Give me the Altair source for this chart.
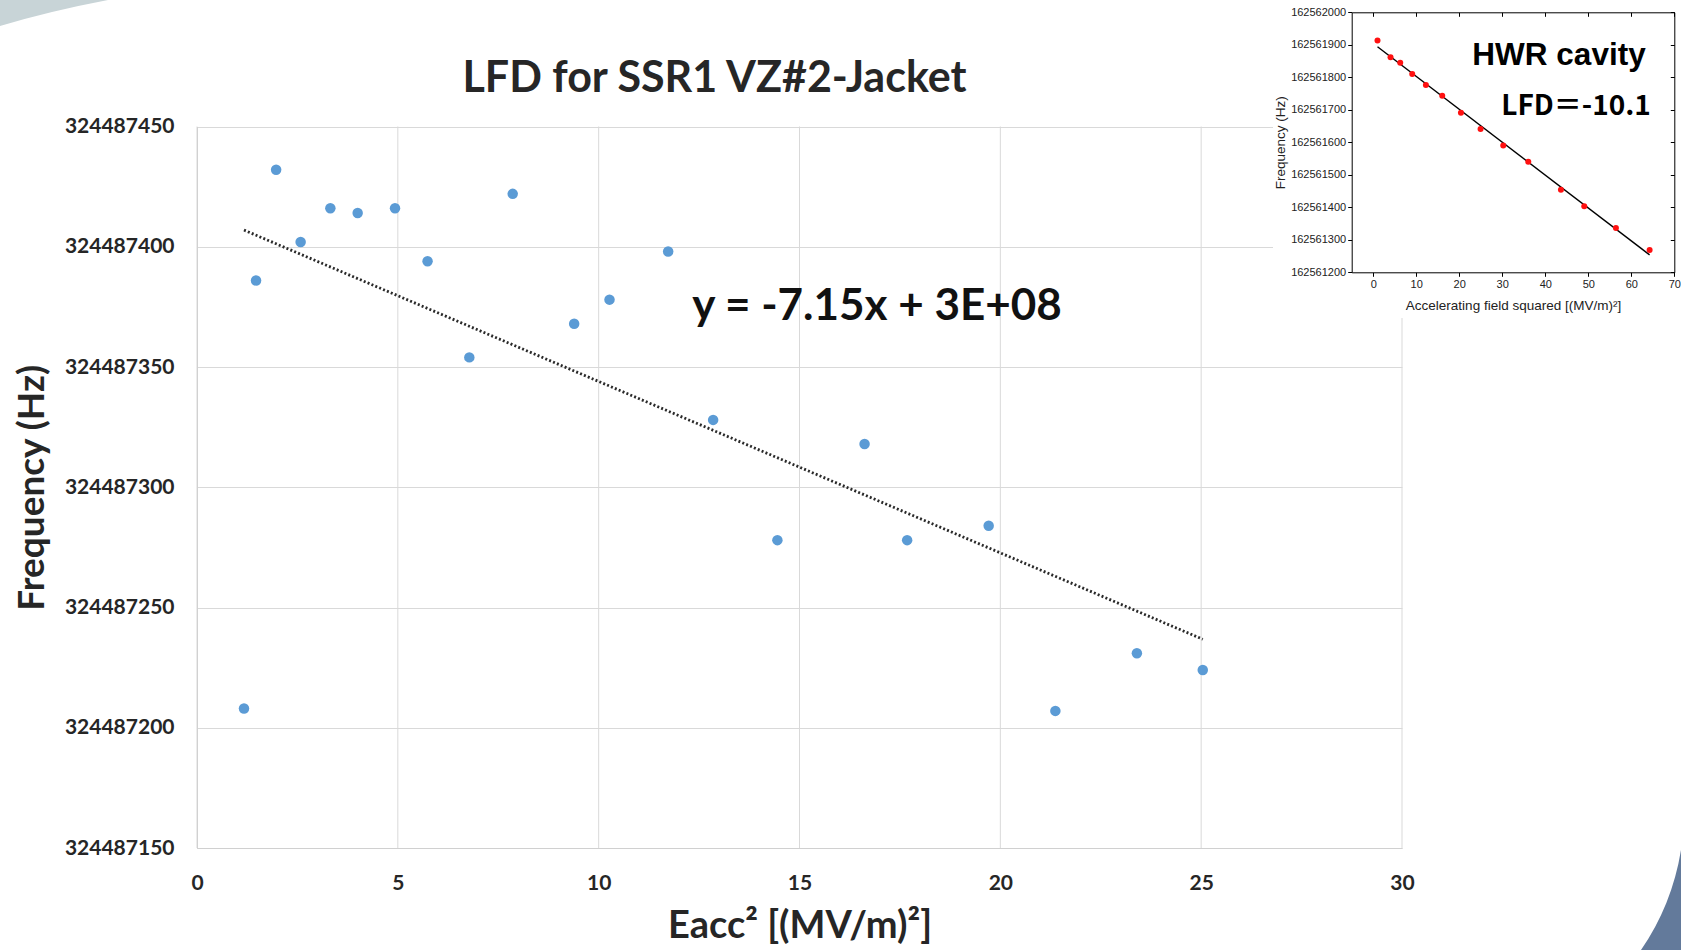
import altair as alt
import pandas as pd

# ---------------- data ----------------
eacc2 = [1.17, 1.47, 1.97, 2.58, 3.32, 4.0, 4.93, 5.74, 6.78, 7.86, 9.39,
         10.27, 11.73, 12.85, 14.45, 16.62, 17.68, 19.71, 21.37, 23.4, 25.04]
freq = [324487208, 324487386, 324487432, 324487402, 324487416, 324487414,
        324487416, 324487394, 324487354, 324487422, 324487368, 324487378,
        324487398, 324487328, 324487278, 324487318, 324487278, 324487284,
        324487207, 324487231, 324487224]

hwr_e2 = [1.0, 4.03, 6.28, 9.07, 12.25, 16.05, 20.39, 24.96, 30.23, 36.05,
          43.64, 49.07, 56.43, 64.26]
hwr_f = [162561913, 162561862, 162561845, 162561810, 162561776, 162561743,
         162561691, 162561641, 162561590, 162561540, 162561454, 162561403,
         162561336, 162561269]

main_x_ticks = [0, 5, 10, 15, 20, 25, 30]
main_y_ticks = [324487150, 324487200, 324487250, 324487300, 324487350,
                324487400, 324487450]
inset_x_ticks = [0, 10, 20, 30, 40, 50, 60, 70]
inset_y_ticks = [162561200, 162561300, 162561400, 162561500, 162561600,
                 162561700, 162561800, 162561900, 162562000]

title_text = ["LFD for SSR1 VZ#2-Jacket"]
eq_text = ["y = -7.15x + 3E+08"]
hwr_text = ["HWR cavity"]
lfd_text = ["LFD\uff1d-10.1"]
main_x_title = "Eacc\u00b2 [(MV/m)\u00b2]"
main_y_title = "Frequency (Hz)"
inset_x_title = "Accelerating field squared [(MV/m)\u00b2]"
inset_y_title = "Frequency (Hz)"

# ---------------- layout (pixels) ----------------
W, H = 1681, 950
X0, X1 = 197, 1402
Y0, Y1 = 848, 126.5
IX0, IX1 = 1351.7, 1674.3
IY0, IY1 = 272.3, 12.3

df_main = pd.DataFrame({"e2": eacc2, "f": freq})
df_hwr = pd.DataFrame({"e2": hwr_e2, "f": hwr_f})
df_xticks = pd.DataFrame({"e2": main_x_ticks})

FONT = "Lato"
INK = "#262626"
GRID = "#d9d9d9"

main_xs = alt.Scale(domain=[0, 30], range=[X0, X1], nice=False, zero=False)
main_ys = alt.Scale(domain=[324487150, 324487450], range=[Y0, Y1], nice=False, zero=False)

main_x_axis = alt.Axis(
    orient="bottom", offset=Y0 - H, values=main_x_ticks, title=main_x_title,
    grid=False, domainColor="#d0d0d0",
    ticks=False, labelPadding=24, labelFont=FONT, labelFontSize=21,
    labelFontWeight="bold", labelColor=INK, labelFlush=False, labelOverlap=False,
    titleFont=FONT, titleFontSize=38, titleFontWeight="bold", titleColor=INK,
    titlePadding=14, zindex=0)
main_x = alt.X("e2:Q", scale=main_xs, axis=main_x_axis)
main_y = alt.Y("f:Q", scale=main_ys, axis=alt.Axis(
    orient="left", offset=-X0, values=main_y_ticks, format="d", title=main_y_title,
    grid=True, gridColor=GRID, gridWidth=1, domainColor="#c8c8c8",
    ticks=False, labelPadding=23, labelFont=FONT, labelFontSize=21,
    labelFontWeight="bold", labelColor=INK, labelOverlap=False,
    titleFont=FONT, titleFontSize=37, titleFontWeight="bold", titleColor=INK,
    titlePadding=13, zindex=0))

main_base = alt.Chart(df_main)
main_vgrid = alt.Chart(df_xticks).mark_rule(color=GRID, strokeWidth=1).encode(
    x=main_x, y=alt.value(Y1), y2=alt.value(Y0))
main_pts = main_base.mark_circle(size=110, color="#5B9BD5", opacity=1).encode(x=main_x, y=main_y)
main_fit = main_base.transform_regression("e2", "f").mark_line(
    color="#2a2a2a", strokeWidth=2.8, strokeDash=[2, 2.2]).encode(x=main_x, y=main_y)
main_group = alt.layer(main_vgrid, main_fit, main_pts)

# white backdrop behind the inset
white_bg = alt.Chart(pd.DataFrame({"a": [0]})).mark_rect(color="white").encode(
    x=alt.value(1273), x2=alt.value(W), y=alt.value(0), y2=alt.value(318))

inset_xs = alt.Scale(domain=[-5, 70], range=[IX0, IX1], nice=False, zero=False)
inset_ys = alt.Scale(domain=[162561200, 162562000], range=[IY0, IY1], nice=False, zero=False)
IFONT = "Liberation Sans"
ICOL = "#222222"

inset_x = alt.X("e2:Q", scale=inset_xs, axis=alt.Axis(
    orient="bottom", offset=IY0 - H, values=inset_x_ticks, title=inset_x_title,
    grid=False, domainColor="black", tickColor="black", tickSize=4,
    labelPadding=2, labelFont=IFONT, labelFontSize=11, labelColor=ICOL,
    labelFlush=False, labelOverlap=False, titleFont=IFONT, titleFontSize=13.5,
    titleFontWeight="normal", titleColor=ICOL, titlePadding=9, zindex=1))
inset_y = alt.Y("f:Q", scale=inset_ys, axis=alt.Axis(
    orient="left", offset=-IX0, values=inset_y_ticks, format="d", title=inset_y_title,
    grid=False, domainColor="black", tickColor="black", tickSize=4,
    labelPadding=2, labelFont=IFONT, labelFontSize=11, labelColor=ICOL,
    labelOverlap=False, titleFont=IFONT, titleFontSize=13.5,
    titleFontWeight="normal", titleColor=ICOL, titlePadding=3, zindex=1))

inset_base = alt.Chart(df_hwr)
inset_fit = inset_base.transform_regression("e2", "f").mark_line(
    color="black", strokeWidth=1.4).encode(
    x=alt.X("e2:Q", scale=inset_xs, axis=None), y=alt.Y("f:Q", scale=inset_ys, axis=None))
inset_pts = inset_base.mark_circle(size=36, color="#ff1010", opacity=1).encode(x=inset_x, y=inset_y)
inset_frame = inset_base.mark_point(opacity=0).encode(
    x=alt.X("e2:Q", scale=inset_xs, axis=alt.Axis(
        orient="bottom", offset=IY1 - H, values=inset_x_ticks, labels=False, title=None,
        grid=False, domainColor="black", tickColor="black", tickSize=4, zindex=1)),
    y=alt.Y("f:Q", scale=inset_ys, axis=alt.Axis(
        orient="left", offset=-IX1, values=inset_y_ticks, labels=False, title=None,
        grid=False, domainColor="black", tickColor="black", tickSize=4, zindex=1)))

def label(texts, x, y, size, font, weight="bold", color="black"):
    return alt.Chart(pd.DataFrame({"t": texts})).mark_text(
        font=font, fontSize=size, fontWeight=weight, color=color,
        align="center", baseline="alphabetic").encode(
        x=alt.value(x), y=alt.value(y), text="t:N")

title_t = label(title_text, 714.5, 92, 43, FONT, color=INK)
eq_t = label(eq_text, 877, 320, 44, FONT, color="#111111")
hwr_t = label(hwr_text, 1559, 65, 31.5, IFONT)
lfd_t = label(lfd_text, 1576, 115, 28, "Noto Sans CJK SC")

# slide decorations
deco_tl = alt.Chart(pd.DataFrame({"a": [0]})).mark_point(
    shape="M0,0L108,0Q50,11 0,26Z", size=4, filled=True, fill="#c8d4d7",
    strokeWidth=0, opacity=1).encode(x=alt.value(0), y=alt.value(0))
deco_br = alt.Chart(pd.DataFrame({"a": [0]})).mark_point(
    shape="M1681,850Q1672,905 1641,950L1681,950Z", size=4, filled=True, fill="#637a9b",
    strokeWidth=0, opacity=1).encode(x=alt.value(0), y=alt.value(0))

chart = alt.layer(
    deco_tl, main_group, white_bg, inset_fit, inset_pts, inset_frame,
    title_t, eq_t, hwr_t, lfd_t, deco_br
).resolve_scale(x="independent", y="independent").properties(
    width=W, height=H, padding=0,
    autosize=alt.AutoSizeParams(type="none"), background="white"
).configure_view(stroke=None)

chart.save("out.html", embed_options={"renderer": "svg", "actions": False})
